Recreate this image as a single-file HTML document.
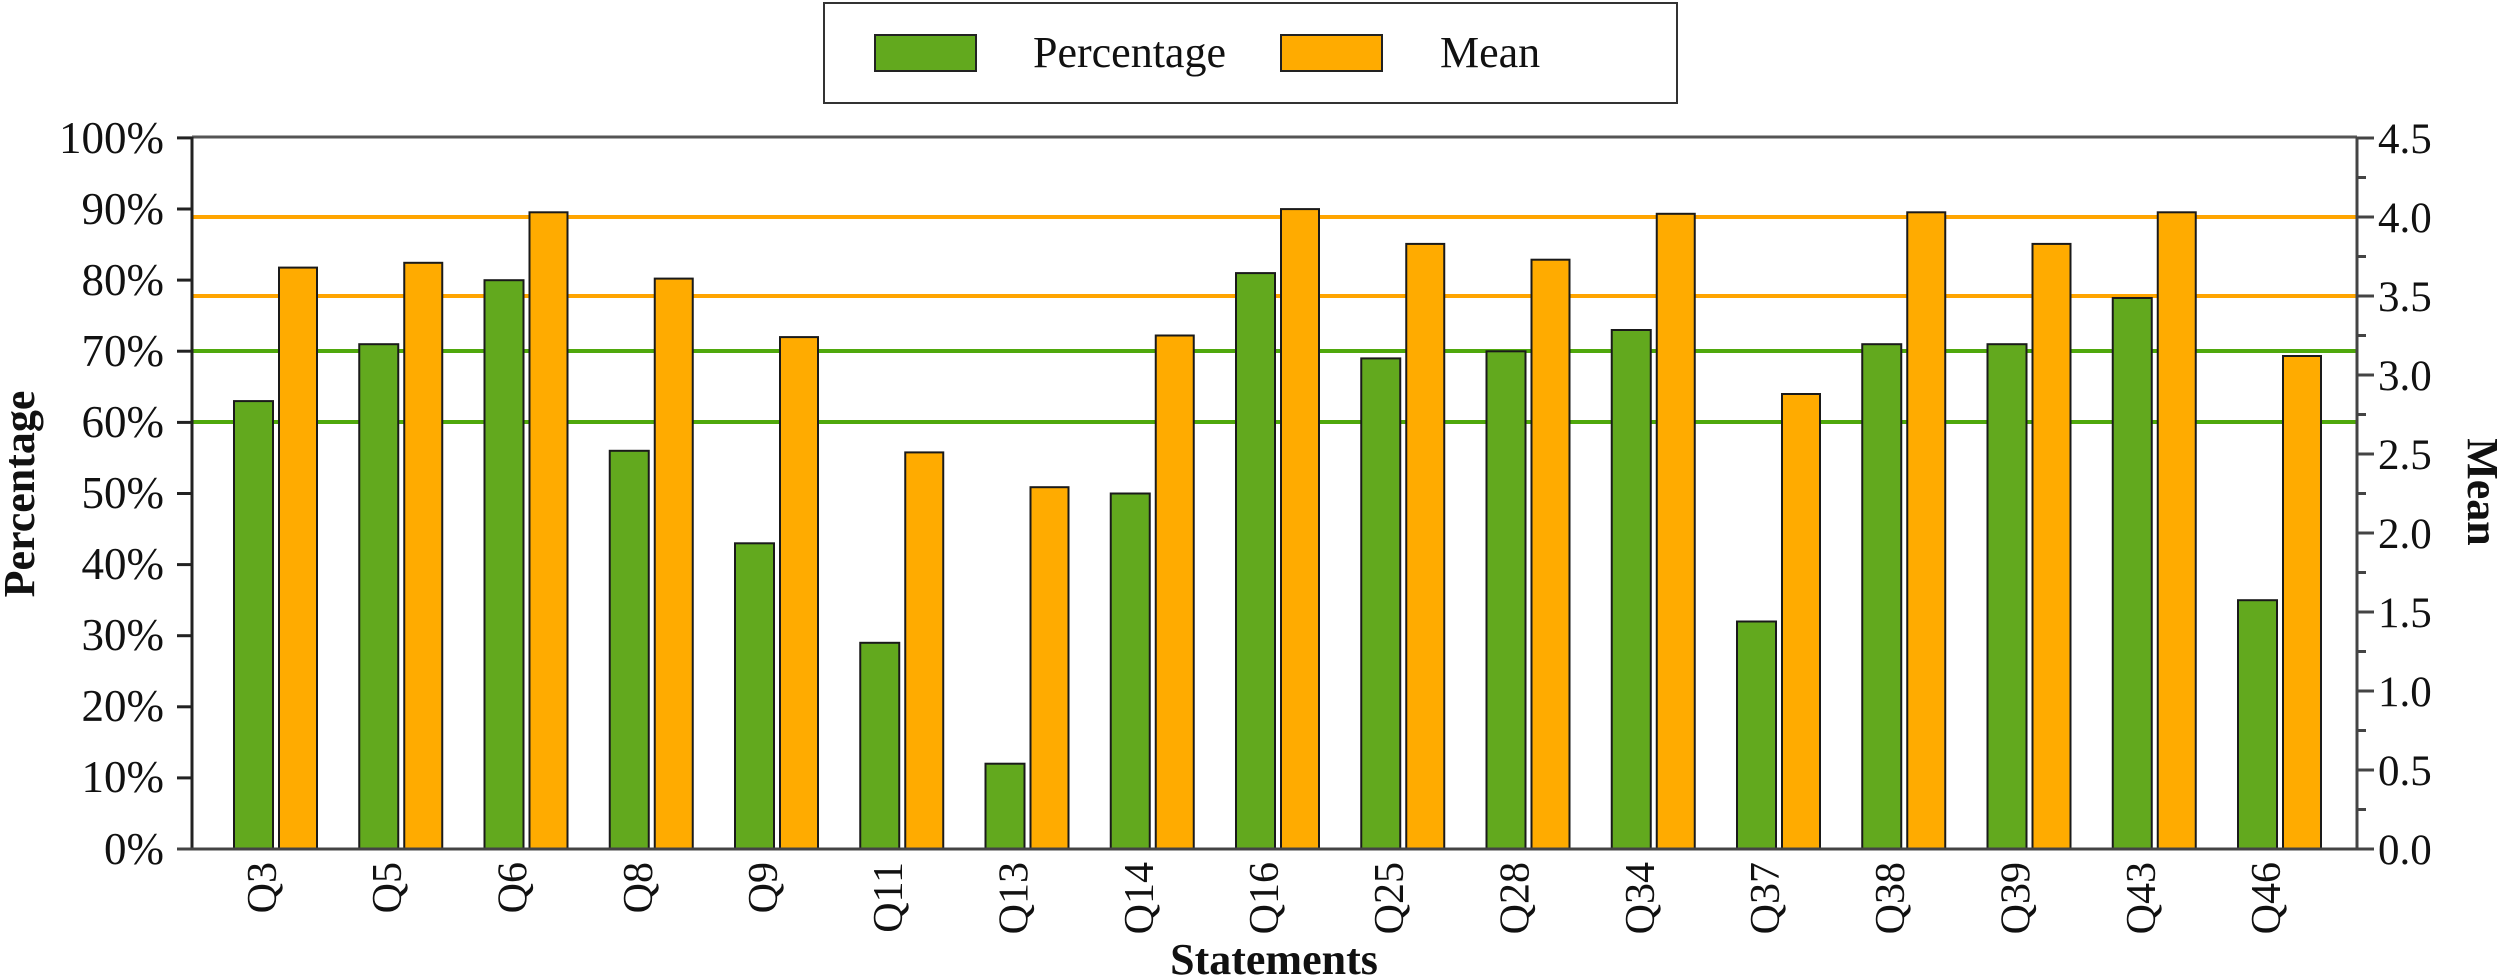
<!DOCTYPE html>
<html><head><meta charset="utf-8"><style>
html,body{margin:0;padding:0;background:#fff;}
svg{display:block;}
text{font-family:"Liberation Serif",serif;fill:#111;}
</style></head><body>
<svg width="2500" height="980" viewBox="0 0 2500 980" xmlns="http://www.w3.org/2000/svg">
<!-- legend -->
<rect x="824" y="3" width="853" height="100" fill="#fff" stroke="#333" stroke-width="2"/>
<rect x="875" y="35" width="101" height="36" fill="#62a91e" stroke="#222" stroke-width="2"/>
<text x="1033" y="67" font-size="44">Percentage</text>
<rect x="1281" y="35" width="101" height="36" fill="#ffab00" stroke="#222" stroke-width="2"/>
<text x="1440" y="67" font-size="44">Mean</text>

<!-- frame -->
<line x1="192" y1="137" x2="2357" y2="137" stroke="#555" stroke-width="3"/>

<!-- reference lines -->
<g stroke-width="4">
<line x1="192" y1="217" x2="2357" y2="217" stroke="#ffa500"/>
<line x1="192" y1="296" x2="2357" y2="296" stroke="#ffa500"/>
<line x1="192" y1="351" x2="2357" y2="351" stroke="#4fa80c"/>
<line x1="192" y1="422" x2="2357" y2="422" stroke="#4fa80c"/>
</g>

<!-- bars -->
<g stroke="#1a1a1a" stroke-width="2">
<g fill="#62a91e">
<rect x="234" y="401.1" width="39" height="447.9"/>
<rect x="359.25" y="344.2" width="39" height="504.8"/>
<rect x="484.5" y="280.2" width="39" height="568.8"/>
<rect x="609.75" y="450.8" width="39" height="398.2"/>
<rect x="735" y="543.3" width="39" height="305.7"/>
<rect x="860.25" y="642.8" width="39" height="206.2"/>
<rect x="985.5" y="763.7" width="39" height="85.3"/>
<rect x="1110.75" y="493.5" width="39" height="355.5"/>
<rect x="1236" y="273.1" width="39" height="575.9"/>
<rect x="1361.25" y="358.4" width="39" height="490.6"/>
<rect x="1486.5" y="351.3" width="39" height="497.7"/>
<rect x="1611.75" y="330" width="39" height="519"/>
<rect x="1737" y="621.5" width="39" height="227.5"/>
<rect x="1862.25" y="344.2" width="39" height="504.8"/>
<rect x="1987.5" y="344.2" width="39" height="504.8"/>
<rect x="2112.75" y="298" width="39" height="551"/>
<rect x="2238" y="600.2" width="39" height="248.8"/>
</g>
<g fill="#ffab00">
<rect x="279" y="267.6" width="38" height="581.4"/>
<rect x="404.25" y="262.8" width="38" height="586.2"/>
<rect x="529.5" y="212.3" width="38" height="636.7"/>
<rect x="654.75" y="278.6" width="38" height="570.4"/>
<rect x="780" y="337.1" width="38" height="511.9"/>
<rect x="905.25" y="452.4" width="38" height="396.6"/>
<rect x="1030.5" y="487.2" width="38" height="361.8"/>
<rect x="1155.75" y="335.5" width="38" height="513.5"/>
<rect x="1281" y="209.1" width="38" height="639.9"/>
<rect x="1406.25" y="243.9" width="38" height="605.1"/>
<rect x="1531.5" y="259.7" width="38" height="589.3"/>
<rect x="1656.75" y="213.8" width="38" height="635.2"/>
<rect x="1782" y="394" width="38" height="455"/>
<rect x="1907.25" y="212.3" width="38" height="636.7"/>
<rect x="2032.5" y="243.9" width="38" height="605.1"/>
<rect x="2157.75" y="212.3" width="38" height="636.7"/>
<rect x="2283" y="356" width="38" height="493"/>
</g>
</g>

<!-- axes -->
<g stroke="#222" stroke-width="3">
<line x1="192" y1="137" x2="192" y2="850"/>
<line x1="177" y1="849" x2="2357" y2="849" stroke="#444"/>
<line x1="2357" y1="137" x2="2357" y2="850" stroke="#444"/>
</g>
<g stroke="#222" stroke-width="3">
<line x1="177" y1="137.9" x2="192" y2="137.9"/>
<line x1="177" y1="209" x2="192" y2="209"/>
<line x1="177" y1="280.1" x2="192" y2="280.1"/>
<line x1="177" y1="351.2" x2="192" y2="351.2"/>
<line x1="177" y1="422.4" x2="192" y2="422.4"/>
<line x1="177" y1="493.5" x2="192" y2="493.5"/>
<line x1="177" y1="564.6" x2="192" y2="564.6"/>
<line x1="177" y1="635.7" x2="192" y2="635.7"/>
<line x1="177" y1="706.8" x2="192" y2="706.8"/>
<line x1="177" y1="777.9" x2="192" y2="777.9"/>
</g>
<g stroke="#444" stroke-width="3">
<line x1="2357" y1="138" x2="2374" y2="138"/>
<line x1="2357" y1="217" x2="2374" y2="217"/>
<line x1="2357" y1="296" x2="2374" y2="296"/>
<line x1="2357" y1="375" x2="2374" y2="375"/>
<line x1="2357" y1="454" x2="2374" y2="454"/>
<line x1="2357" y1="533" x2="2374" y2="533"/>
<line x1="2357" y1="612" x2="2374" y2="612"/>
<line x1="2357" y1="691" x2="2374" y2="691"/>
<line x1="2357" y1="770" x2="2374" y2="770"/>
<line x1="2357" y1="849" x2="2374" y2="849"/>
<line x1="2357" y1="177.5" x2="2366" y2="177.5"/>
<line x1="2357" y1="256.5" x2="2366" y2="256.5"/>
<line x1="2357" y1="335.5" x2="2366" y2="335.5"/>
<line x1="2357" y1="414.5" x2="2366" y2="414.5"/>
<line x1="2357" y1="493.5" x2="2366" y2="493.5"/>
<line x1="2357" y1="572.5" x2="2366" y2="572.5"/>
<line x1="2357" y1="651.5" x2="2366" y2="651.5"/>
<line x1="2357" y1="730.5" x2="2366" y2="730.5"/>
<line x1="2357" y1="809.5" x2="2366" y2="809.5"/>
</g>

<!-- left tick labels -->
<g font-size="45" text-anchor="end">
<text x="164" y="153">100%</text>
<text x="164" y="224">90%</text>
<text x="164" y="295">80%</text>
<text x="164" y="366">70%</text>
<text x="164" y="437">60%</text>
<text x="164" y="508">50%</text>
<text x="164" y="579">40%</text>
<text x="164" y="650">30%</text>
<text x="164" y="721">20%</text>
<text x="164" y="792">10%</text>
<text x="164" y="864">0%</text>
</g>
<!-- right tick labels -->
<g font-size="43" text-anchor="start">
<text x="2378" y="153">4.5</text>
<text x="2378" y="232">4.0</text>
<text x="2378" y="311">3.5</text>
<text x="2378" y="390">3.0</text>
<text x="2378" y="469">2.5</text>
<text x="2378" y="548">2.0</text>
<text x="2378" y="627">1.5</text>
<text x="2378" y="706">1.0</text>
<text x="2378" y="785">0.5</text>
<text x="2378" y="864">0.0</text>
</g>

<!-- category labels -->
<g font-size="42" text-anchor="end">
<text transform="translate(276,862) rotate(-90)">Q3</text>
<text transform="translate(401,862) rotate(-90)">Q5</text>
<text transform="translate(526.5,862) rotate(-90)">Q6</text>
<text transform="translate(652,862) rotate(-90)">Q8</text>
<text transform="translate(777,862) rotate(-90)">Q9</text>
<text transform="translate(902,862) rotate(-90)">Q11</text>
<text transform="translate(1027.5,862) rotate(-90)">Q13</text>
<text transform="translate(1153,862) rotate(-90)">Q14</text>
<text transform="translate(1278,862) rotate(-90)">Q16</text>
<text transform="translate(1403,862) rotate(-90)">Q25</text>
<text transform="translate(1528.5,862) rotate(-90)">Q28</text>
<text transform="translate(1654,862) rotate(-90)">Q34</text>
<text transform="translate(1779,862) rotate(-90)">Q37</text>
<text transform="translate(1904,862) rotate(-90)">Q38</text>
<text transform="translate(2029.5,862) rotate(-90)">Q39</text>
<text transform="translate(2155,862) rotate(-90)">Q43</text>
<text transform="translate(2280,862) rotate(-90)">Q46</text>
</g>

<!-- axis titles -->
<text x="1274" y="974" font-size="44" font-weight="bold" text-anchor="middle">Statements</text>
<text transform="translate(34,494) rotate(-90)" font-size="44" font-weight="bold" text-anchor="middle">Percentage</text>
<text transform="translate(2468,492) rotate(90)" font-size="44" font-weight="bold" text-anchor="middle">Mean</text>
</svg>
</body></html>
